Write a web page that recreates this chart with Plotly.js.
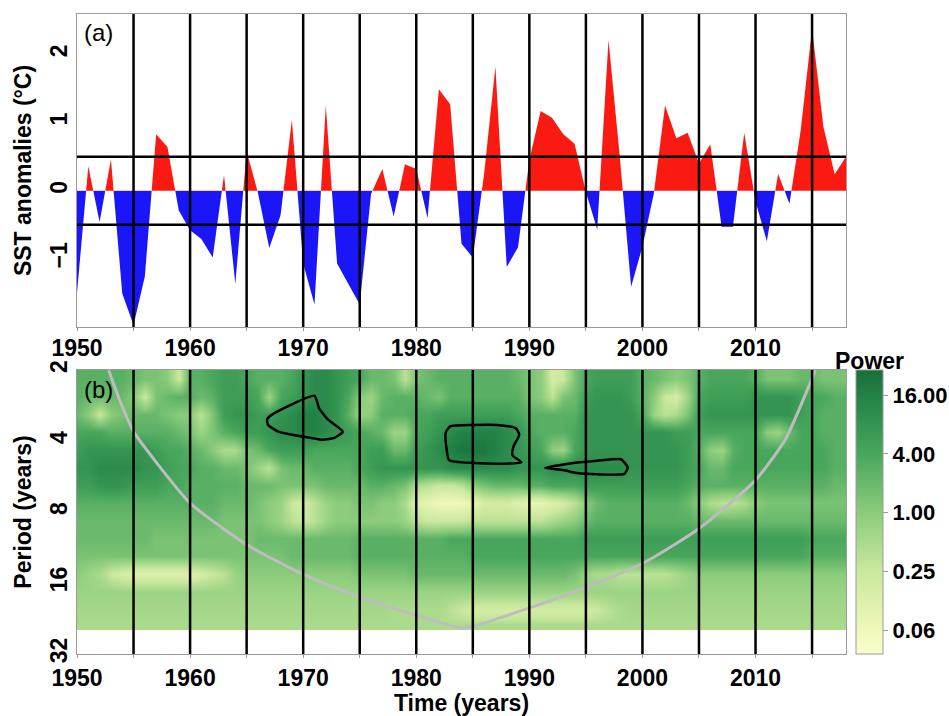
<!DOCTYPE html>
<html><head><meta charset="utf-8">
<script src="https://cdn.plot.ly/plotly-3.0.1.min.js"></script>
<style>html,body{margin:0;padding:0;background:#fff}#chart{width:949px;height:716px}</style>
</head><body><div id="chart"></div>
<script>
// ---------------- data ----------------
const years = [1950,1951,1952,1953,1954,1955,1956,1957,1958,1959,
  1960,1961,1962,1963,1964,1965,1966,1967,1968,1969,
  1970,1971,1972,1973,1974,1975,1976,1977,1978,1979,
  1980,1981,1982,1983,1984,1985,1986,1987,1988,1989,
  1990,1991,1992,1993,1994,1995,1996,1997,1998,1999,
  2000,2001,2002,2003,2004,2005,2006,2007,2008,2009,
  2010,2011,2012,2013,2014,2015,2016,2017,2018];

const sstAnomaly = [-1.50,0.36,-0.46,0.46,-1.51,-1.97,-1.26,0.83,0.64,-0.29,
  -0.58,-0.71,-0.98,0.23,-1.37,0.58,-0.03,-0.84,-0.36,1.04,
  -1.07,-1.67,1.25,-1.07,-1.37,-1.67,-0.05,0.32,-0.38,0.39,
  0.32,-0.40,1.49,1.27,-0.78,-0.98,0.25,1.82,-1.12,-0.83,
  0.45,1.17,1.07,0.83,0.69,-0.02,-0.57,2.21,0.50,-1.41,
  -0.82,-0.05,1.25,0.77,0.85,0.40,0.68,-0.53,-0.53,0.85,
  -0.16,-0.74,0.25,-0.19,0.89,2.38,0.94,0.24,0.50];

const thresholds = [-0.5, 0.5];
const markerYears = [1955,1960,1965,1970,1975,1980,1985,1990,1995,2000,2005,2010,2015];
const tickYears = [1950,1960,1970,1980,1990,2000,2010];
const sstTicks = [-1,0,1,2];

// wavelet power (log2 of power), rows = period bands, columns = years
const periodEdges = [2,2.38,2.83,3.36,4,4.76,5.66,6.73,8,9.51,11.31,13.45,16,19.03,22.63,25.4];
const log2Power = [
 [1.5,1.5,1.5,1.5,1.5,1,0.5,0.5,0,-2, 1.5,1.5,2,2.5,2.5,2,1.5,1.5,1.5,2, 3,3.5,3.5,3,2.5,2,1,1,0.5,-1.5, 0.5,1,1.5,1.5,1.5,1.5,1.5,1.5,1.5,1, 0.5,0,-2.5,-2,0.5,2,2.5,2.5,2.5,2.5, 1.5,1,0.5,0,0.5,1.5,2,2,2,2, 1.5,0.5,0.5,0.5,1,1,0.5,0.5,0.5],
 [1.5,1,1,1,1,0,-2,0.5,1,1.5, 1.5,1,1.5,2.5,2.5,2.5,2,-0.5,2,2.5, 3,3.5,3.5,3,2,0,-0.5,1,1.5,1.5, 1.5,1,0.5,1.5,1.5,1.5,1.5,1.5,1.5,1.5, 0.5,0,-1.5,0.5,1,2.5,3,3,3,2.5, 1.5,0,-2,-2.5,-0.5,2,2.5,2.5,2.5,2.5, 3,3,3,3,2.5,2,2,1.5,1.5],
 [1,0,-2,0,0.5,1,1,1,0.5,0, 0,-1.5,0.5,2.5,3,3,2.5,2.5,3,3.5, 4,4,3.5,3,1.5,-0.5,0,1.5,1.5,1.5, 2,2,2.5,2.5,2.5,2.5,2.5,2.5,2.5,2, 1.5,1.5,1.5,1.5,1.5,3,3,3,3,3, 2,-0.5,-1.5,-1,0.5,2.5,3,3,3,3, 3,3,3,3,2.5,2,1.5,1.5,1.5],
 [2,2,2,1.5,1.5,1.5,1.5,1.5,1.5,1, 0.5,-0.5,0.5,1.5,2,2.5,2.5,3,3.5,3.5, 4,4,3.5,3,2.5,2,1.5,1,-0.5,-0.5, 2,2.5,3,3.5,4,4,4,4,3.5,3, 2,1.5,1.5,1.5,2,3,3,3,3,3, 3,3,3,2.5,2.5,2,2,2,2,2, 2,0,-0.5,1,2,2,1.5,1.5,1.5],
 [2.5,3,3,3,3,3,3,2.5,2,2, 1.5,1,0,-1,-1,0.5,1,2,2.5,2.5, 2.5,2,2,2,2,2,2.5,2.5,1,1, 2.5,3,3.5,4,4.5,4.5,4.5,4,3.5,3, 2.5,2,0,-0.5,2,3,3,3,3,3, 3,3,3,3,2.5,1.5,0,-0.5,1.5,2, 2,2,2,2,2,2,2,1.5,1.5],
 [3,3,3.5,3.5,3.5,3.5,3,3,2.5,2, 2,1.5,1.5,1,1,0.5,-0.5,-1.5,0.5,1, 1,1.5,1.5,1.5,1.5,2,2.5,3,3,3, 3,3,3,3.5,3.5,3.5,3.5,3.5,3.5,3, 3,3,3.5,3.5,3.5,3.5,3.5,3.5,3.5,3, 3,3,3,3,2.5,2,1,1,2,2, 2,2,2,2,2,2,2,1.5,1.5],
 [2.5,2.5,3,3,3,2.5,2.5,2.5,2,2, 1.5,1.5,1.5,1.5,1.5,1,1,1,0.5,0.5, 0.5,0.5,1,1,1,1,1.5,1.5,1,0.5, -1,-1.5,-2,-2,-1.5,0,0.5,1,1,1, 1.5,1.5,2,2,2,2.5,2.5,2.5,2.5,2.5, 2.5,2.5,2.5,2.5,2,1.5,1.5,1.5,1.5,1.5, 1.5,1.5,1.5,1.5,1.5,1.5,1.5,1,1],
 [1.5,1.5,1.5,1.5,1.5,1.5,1.5,1.5,1.5,1.5, 1.5,1.5,1.5,1,1,1,0.5,0,-0.5,-2, -2.5,-1.5,-0.5,0,0,0.5,0.5,0,0,-1, -3,-3.5,-4,-4,-4,-3.5,-2.5,-2.5,-2.5,-3, -3.5,-3.5,-3,-2.5,-1.5,0,1,1.5,1.5,1.5, 1.5,1.5,1.5,1.5,1,0,-1,-1.5,-1.5,-1, 0,0.5,0.5,0.5,0.5,0.5,0.5,0.5,0.5],
 [1,1,1,1,1,1,1,1,1,1, 1,1,1,0.5,0.5,0.5,0.5,0,-0.5,-1.5, -2,-1.5,-0.5,0,0,0,0,0,0,-0.5, -1.5,-2,-2,-2,-2,-1.5,-1.5,-1.5,-1.5,-1.5, -1.5,-1.5,-1,-0.5,0,1,1.5,1.5,1.5,1.5, 1.5,1.5,1.5,1.5,1.5,1,1,1,1,1, 1,1,1,1,1,1,1,1,1],
 [1,1,1,1,1,1,1,0.5,0.5,0.5, 0.5,0.5,0.5,0.5,0.5,0.5,1,1,1,1, 1,1,1,1,1,1.5,1.5,1.5,1.5,1.5, 1.5,1.5,1.5,2,2,2,2,2,2,2, 2,2,2,2,2,2.5,2.5,2.5,2.5,2.5, 2.5,2.5,2.5,2.5,2.5,2.5,2.5,2.5,2.5,2.5, 2.5,2.5,2.5,2.5,2.5,2,2,2,2],
 [0.5,0.5,0.5,0.5,0.5,0.5,0.5,0.5,0.5,0.5, 0.5,0.5,0.5,0.5,0.5,0.5,0.5,0.5,0.5,1, 1,1,1,1,1,1.5,1.5,1.5,1.5,1.5, 1.5,1.5,1.5,1.5,1.5,2,2,2,2,2, 2,2,2,2,2,2,2,2,2,2, 2,2,2,2,2,2,2,2,2,2, 2,2,2,2,2,1.5,1.5,1.5,1.5],
 [0,-0.5,-1,-2,-2.5,-3,-3,-3,-3,-3, -3,-2.5,-2,-1.5,-0.5,0,0,0,0,0, 0,0,0,0,0,0.5,0.5,0.5,0.5,0.5, 1,1,1,1,1,1,1,1,1,1, 1,1,1,1,0.5,-0.5,-1,-1,-1.5,-1.5, -1.5,-1.5,-1.5,-1,-0.5,0,0,0,0,0, 0,0,0,0,0,0,0,0,0],
 [-0.5,-0.5,-0.5,-0.5,-0.5,-0.5,-0.5,-0.5,-0.5,-0.5, -0.5,-0.5,-0.5,-0.5,-0.5,-0.5,-0.5,-0.5,-0.5,-0.5, -0.5,-0.5,-0.5,-0.5,-0.5,-0.5,-0.5,-0.5,-0.5,-0.5, -0.5,-0.5,-0.5,-0.5,-0.5,-0.5,-0.5,-0.5,-0.5,-0.5, -0.5,-0.5,-0.5,-0.5,-0.5,-0.5,-0.5,-0.5,-0.5,-0.5, -0.5,-0.5,-0.5,-0.5,-0.5,-0.5,-0.5,-0.5,-0.5,-0.5, -0.5,-0.5,-0.5,-0.5,-0.5,-0.5,-0.5,-0.5,-0.5],
 [-0.8,-0.8,-0.8,-0.8,-0.8,-0.8,-0.8,-0.8,-0.8,-0.8, -0.8,-0.8,-0.8,-0.8,-0.8,-0.8,-0.8,-0.8,-0.8,-0.8, -0.8,-0.8,-0.8,-0.8,-0.8,-0.8,-0.8,-0.8,-1,-1, -1,-1,-1,-1.5,-2,-2.5,-2.5,-2.5,-2.5,-2.5, -2.5,-2.5,-2.5,-2.5,-2.5,-2.5,-2,-1.5,-1,-0.8, -0.8,-0.8,-0.8,-0.8,-0.8,-0.8,-0.8,-0.8,-0.8,-0.8, -0.8,-0.8,-0.8,-0.8,-0.8,-0.8,-0.8,-0.8,-0.8],
 [-1,-1,-1,-1,-1,-1,-1,-1,-1,-1, -1,-1,-1,-1,-1,-1,-1,-1,-1,-1, -1,-1,-1,-1,-1,-1,-1,-1,-1,-1, -1,-1,-1,-1,-1,-1,-1,-1,-1,-1, -1,-1,-1,-1,-1,-1,-1,-1,-1,-1, -1,-1,-1,-1,-1,-1,-1,-1,-1,-1, -1,-1,-1,-1,-1,-1,-1,-1,-1]
];

const powerTicks = [-4,-2,0,2,4];
const powerTickText = ['0.06','0.25','1.00','4.00','16.00'];
const periodTicks = [2,4,8,16,32];

// cone of influence
const coiYears   = [1952.8,1953.7,1955.0,1957.2,1960.0,1965.0,1970.0,1975.0,1980.0,1984.0,1985.0,1990.0,1995.0,2000.3,2005.0,2010.0,2012.7,2015.0,2015.3];
const coiPeriods = [2.0,2.63,3.65,5.06,7.34,11.0,14.7,18.4,21.9,24.8,24.4,20.4,16.7,13.0,9.4,5.86,3.89,2.17,2.0];

// significance contours
const sig1Years   = [1966.8,1967.2,1971.0,1971.4,1972.2,1973.5,1972.8,1971.7,1969.9,1967.8,1966.9,1966.8];
const sig1Periods = [3.25,3.10,2.57,2.90,3.25,3.65,3.87,3.95,3.83,3.65,3.42,3.25];
const sig2Years   = [1982.6,1983.0,1985.1,1987.1,1988.8,1989.1,1988.6,1988.5,1989.3,1988.0,1985.1,1982.9,1982.7,1982.6];
const sig2Periods = [3.70,3.47,3.42,3.42,3.53,3.76,4.22,4.59,4.93,4.99,4.96,4.82,4.38,3.70];
const sig3Years   = [1991.4,1993.9,1996.0,1998.1,1998.7,1998.4,1996.0,1994.2,1993.0,1991.4];
const sig3Periods = [5.21,4.96,4.85,4.78,5.18,5.51,5.54,5.47,5.31,5.21];

// ---------------- styling ----------------
const FONT = '"Liberation Sans", Arial, Helvetica, sans-serif';
const RED = '#fb1a12', BLUE = '#1a16f8';
const Y_MIN = -2, Y_MAX = 2.593;
const zeroFrac = (0 - Y_MIN) / (Y_MAX - Y_MIN);
const lg = a => a.map(Math.log2);

const powerScale = [
  [0.000,'rgb(252,253,204)'],
  [0.083,'rgb(240,248,186)'],
  [0.290,'rgb(202,232,158)'],
  [0.497,'rgb(140,204,124)'],
  [0.705,'rgb(72,166,92)'],
  [0.912,'rgb(34,130,70)'],
  [1.000,'rgb(25,110,56)']
];

const traces = [
  { type:'scatter', mode:'lines', x: years, y: sstAnomaly, xaxis:'x', yaxis:'y',
    fill:'tozeroy', line:{width:0, color:'rgba(0,0,0,0)'},
    fillgradient:{type:'vertical', start:Y_MIN, stop:Y_MAX,
      colorscale:[[0,BLUE],[zeroFrac,BLUE],[zeroFrac+1e-6,RED],[1,RED]]},
    hoverinfo:'skip' },
  { type:'heatmap', x: years, y: lg(periodEdges), z: log2Power, xaxis:'x2', yaxis:'y2',
    zmin:-4.8, zmax:4.85, zsmooth:'best', colorscale: powerScale,
    colorbar:{ x: 856/949, xanchor:'left', xpad:0, y: 62/716, yanchor:'bottom', ypad:0,
      len:284, lenmode:'pixels', thickness:27, outlinecolor:'#9a9a9a', outlinewidth:1,
      tickmode:'array', tickvals: powerTicks, ticktext: powerTickText,
      ticks:'outside', ticklen:5, tickcolor:'#9a9a9a',
      tickfont:{family:FONT, size:22, weight:'bold', color:'black'} } },
  { type:'scatter', mode:'lines', x: coiYears, y: lg(coiPeriods), xaxis:'x2', yaxis:'y2',
    line:{color:'#bdbdbd', width:3, shape:'spline', smoothing:0.6}, hoverinfo:'skip' },
  { type:'scatter', mode:'lines', x: sig1Years, y: lg(sig1Periods), xaxis:'x2', yaxis:'y2',
    line:{color:'black', width:2.5, shape:'spline', smoothing:0.5}, hoverinfo:'skip' },
  { type:'scatter', mode:'lines', x: sig2Years, y: lg(sig2Periods), xaxis:'x2', yaxis:'y2',
    line:{color:'black', width:2.5, shape:'spline', smoothing:0.6}, hoverinfo:'skip' },
  { type:'scatter', mode:'lines', x: sig3Years, y: lg(sig3Periods), xaxis:'x2', yaxis:'y2',
    line:{color:'black', width:2.5, shape:'spline', smoothing:0.5}, hoverinfo:'skip' }
];

const shapes = [];
markerYears.forEach(yr => {
  shapes.push({type:'line', xref:'x', yref:'y domain', x0:yr, x1:yr, y0:0, y1:1, line:{color:'black', width:2.5}});
  shapes.push({type:'line', xref:'x2', yref:'y2 domain', x0:yr, x1:yr, y0:0, y1:1, line:{color:'black', width:2.5}});
});
thresholds.forEach(t => {
  shapes.push({type:'line', xref:'x domain', yref:'y', x0:0, x1:1, y0:t, y1:t, line:{color:'black', width:2.5}});
});

const tickFont = {family:FONT, size:23, weight:'bold', color:'black'};
const titleFont = {family:FONT, size:23, weight:'bold', color:'black'};
const frame = {showline:true, mirror:true, linecolor:'#9a9a9a', linewidth:1, showgrid:false, zeroline:false, ticks:''};
const xTicks = {ticks:'outside', ticklen:3, tickcolor:'#9a9a9a', tickwidth:1,
  minor:{dtick:5, tick0:1950, ticks:'outside', ticklen:3, tickcolor:'#9a9a9a', tickwidth:1}};
const XDOM = [77/949, 846/949];

const layout = {
  width:949, height:716, margin:{l:0, r:0, t:0, b:0},
  paper_bgcolor:'white', plot_bgcolor:'white', showlegend:false,
  font:{family:FONT, color:'black'},
  xaxis: Object.assign({domain:XDOM, range:[1950,2018], anchor:'y', tickmode:'array', tickvals:tickYears,
    tickfont:tickFont, ticklabelstandoff:-3}, frame, xTicks),
  yaxis: Object.assign({domain:[1-327/716, 1-14/716], range:[Y_MIN,Y_MAX], anchor:'x', tickmode:'array',
    tickvals:sstTicks, tickangle:-90, tickfont:tickFont,
    title:{text:'SST anomalies (°C)', font:titleFont, standoff:7}}, frame),
  xaxis2: Object.assign({domain:XDOM, range:[1950,2018], anchor:'y2', tickmode:'array', tickvals:tickYears,
    tickfont:tickFont, title:{text:'Time (years)', font:titleFont, standoff:2}}, frame, xTicks),
  yaxis2: Object.assign({domain:[1-654/716, 1-370/716], range:[5,1], anchor:'x2', tickmode:'array',
    tickvals: lg(periodTicks), ticktext: periodTicks.map(String), tickangle:-90, tickfont:tickFont,
    title:{text:'Period (years)', font:titleFont, standoff:7}}, frame),
  shapes: shapes,
  annotations:[
    {text:'(a)', xref:'paper', yref:'paper', x:82/949, y:1-17/716, xanchor:'left', yanchor:'top', showarrow:false,
     font:{family:FONT, size:24, color:'black'}},
    {text:'(b)', xref:'paper', yref:'paper', x:82/949, y:1-374/716, xanchor:'left', yanchor:'top', showarrow:false,
     font:{family:FONT, size:24, color:'black'}},
    {text:'Power', xref:'paper', yref:'paper', x:869/949, y:1-361/716, xanchor:'center', yanchor:'middle', showarrow:false,
     font:{family:FONT, size:23, weight:'bold', color:'black'}}
  ]
};

Plotly.newPlot('chart', traces, layout, {staticPlot:true, displayModeBar:false});
</script>
</body></html>
